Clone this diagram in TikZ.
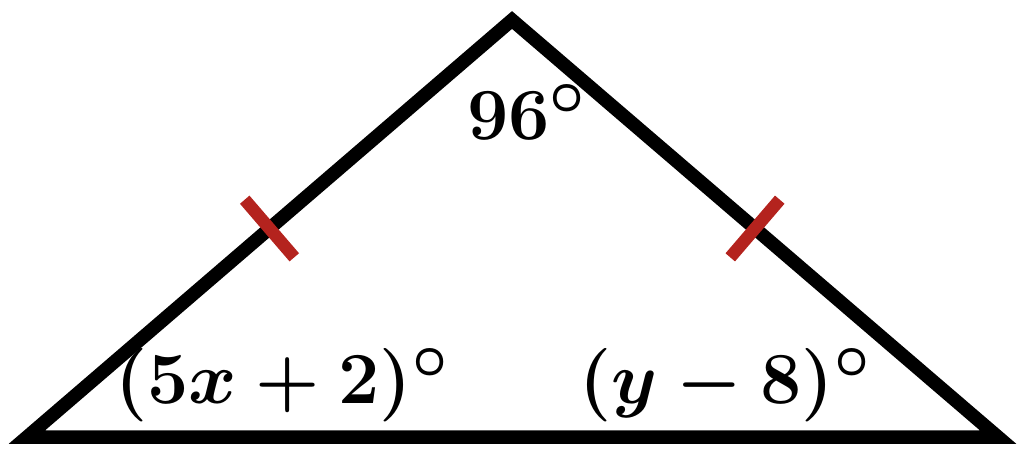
\documentclass[tikz,border=0pt]{standalone}
\usepackage{graphicx}
\usetikzlibrary{calc}
\definecolor{tickred}{RGB}{180,35,30}
\newcommand{\biglabel}[1]{\scalebox{2.95}{\Huge\boldmath$#1$}}
\tikzset{
  side/.style={line width=13.5pt, line join=miter, draw=black},
  tickmark/.style={line width=12.5pt, draw=tickred},
  anglelabel/.style={inner sep=0pt}
}
\begin{document}
\begin{tikzpicture}[x=1pt,y=-1pt]
\useasboundingbox (0,0) rectangle (1024,450);
\coordinate (A) at (512,20);
\coordinate (B) at (27,437);
\coordinate (C) at (998,437);
\draw[side] (A) -- (B) -- (C) -- cycle;
\coordinate (MAB) at ($(A)!0.5!(B)$);
\coordinate (MAC) at ($(A)!0.5!(C)$);
\coordinate (t1a) at ($(MAB)!38pt!90:(B)$);
\coordinate (t1b) at ($(MAB)!38pt!-90:(B)$);
\coordinate (t2a) at ($(MAC)!38pt!90:(C)$);
\coordinate (t2b) at ($(MAC)!38pt!-90:(C)$);
\draw[tickmark] (t1a) -- (t1b);
\draw[tickmark] (t2a) -- (t2b);
\node[anglelabel] (top) at (527,112) {\biglabel{96^\circ}};
\node[anglelabel] (left) at (282,385) {\biglabel{(5x+2)^\circ}};
\node[anglelabel] (right) at (725,385) {\biglabel{(y-8)^\circ}};
\end{tikzpicture}
\end{document}
